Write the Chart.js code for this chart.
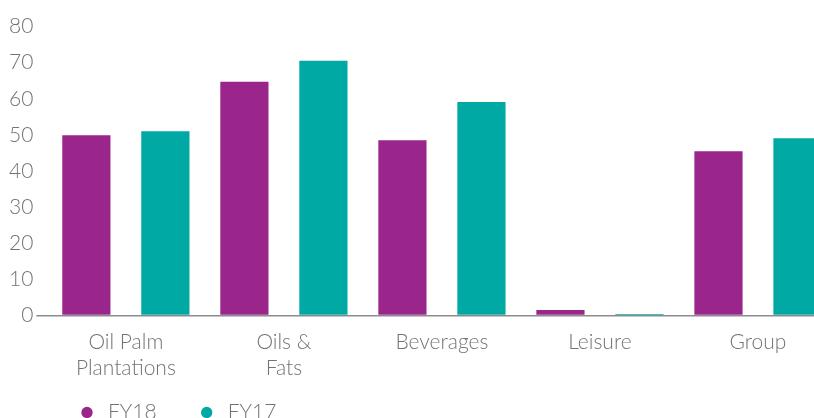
<!DOCTYPE html>
<html>
<head>
<meta charset="utf-8">
<script src="https://cdn.jsdelivr.net/npm/chart.js@4.4.1/dist/chart.umd.min.js"></script>
<style>
  html, body { margin: 0; padding: 0; overflow: hidden; background: #fff; }
  #wrap { position: relative; width: 837px; height: 466px; }
</style>
</head>
<body>
<div id="wrap"><canvas id="myChart"></canvas></div>
<script>
const categories = [['Oil Palm', 'Plantations'], ['Oils &', 'Fats'], 'Beverages', 'Leisure', 'Group'];
const fy18 = [49.9, 64.7, 48.5, 1.5, 45.5];
const fy17 = [51.0, 70.5, 59.1, 0.4, 49.1];
const yMin = 0, yMax = 80, yStep = 10;

const purple = '#9a258b';
const teal = '#00a9a4';
const textGrey = '#737373';
const font = { family: 'Lato, "Open Sans", sans-serif', size: 21, weight: 300, lineHeight: 26 / 21 };

const data = {
  labels: categories,
  datasets: [
    { label: 'FY18', data: fy18, backgroundColor: purple, borderWidth: 0 },
    { label: 'FY17', data: fy17, backgroundColor: teal, borderWidth: 0 }
  ]
};

// only the zero line is visible, it runs a bit left of the plot
const zeroLine = ctx => ctx.tick && ctx.tick.value === 0 ? '#8c8c8c' : 'rgba(0,0,0,0)';

// move the legend row under the labels, flush with the axis start
const legendSpot = {
  id: 'legendSpot',
  afterLayout(chart) {
    chart.legend.left = 37;
    chart.legend.top = chart.chartArea.bottom + 47;
  }
};

const config = {
  type: 'bar',
  data,
  options: {
    responsive: true,
    maintainAspectRatio: false,
    animation: false,
    layout: { padding: { top: 26.5, left: 6, right: 0, bottom: 0 } },
    datasets: {
      bar: { categoryPercentage: 1.0, barPercentage: 0.61 }
    },
    scales: {
      x: {
        grid: { display: false, drawTicks: false },
        border: { display: false },
        ticks: { color: textGrey, font, padding: 14, maxRotation: 0, autoSkip: false }
      },
      y: {
        min: yMin,
        max: yMax,
        border: { display: false },
        grid: { color: zeroLine, tickColor: zeroLine, lineWidth: 1.5, drawTicks: true, tickLength: 10.5 },
        ticks: { stepSize: yStep, color: textGrey, font, padding: 3 }
      }
    },
    plugins: {
      legend: {
        position: 'bottom',
        align: 'start',
        labels: {
          usePointStyle: true,
          pointStyle: 'circle',
          boxWidth: 21,
          boxHeight: 8,
          padding: 39.5,
          color: textGrey,
          font
        }
      },
      tooltip: { enabled: false }
    }
  },
  plugins: [legendSpot]
};

const myChart = new Chart(document.getElementById('myChart'), config);
</script>
</body>
</html>
